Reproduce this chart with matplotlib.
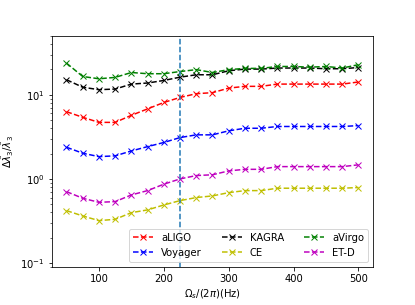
import numpy as np
import matplotlib
matplotlib.use('Agg')
import matplotlib.pyplot as plt

# fréquences (Hz)
freq = [50, 75, 100, 125, 150, 175, 200, 225, 250, 275, 300, 325, 350, 375, 400, 425, 450, 475, 500]

aligo = [6.3, 5.4, 4.7, 4.7, 5.7, 6.8, 8.1, 9.3, 10.3, 10.6, 12.0, 12.6, 12.6, 13.4, 13.4, 13.4, 13.4, 13.4, 14.2]
voyager = [2.38, 2.02, 1.84, 1.88, 2.15, 2.42, 2.71, 3.10, 3.34, 3.34, 3.73, 4.0, 4.0, 4.2, 4.2, 4.2, 4.2, 4.2, 4.3]
kagra = [15.1, 12.3, 11.5, 11.7, 13.4, 13.8, 14.8, 16.2, 17.3, 17.3, 19.3, 20.2, 20.2, 20.8, 20.8, 20.8, 20.4, 20.4, 21.1]
ce = [0.42, 0.363, 0.319, 0.331, 0.397, 0.428, 0.49, 0.552, 0.60, 0.628, 0.687, 0.726, 0.726, 0.775, 0.775, 0.775, 0.775, 0.775, 0.79]
avirgo = [23.8, 16.5, 15.5, 16.1, 18.4, 17.8, 17.8, 18.9, 19.9, 18.4, 19.9, 20.6, 20.6, 21.7, 21.7, 21.3, 21.7, 20.8, 22.8]
etd = [0.706, 0.589, 0.527, 0.537, 0.645, 0.726, 0.865, 1.0, 1.096, 1.12, 1.245, 1.30, 1.30, 1.40, 1.40, 1.40, 1.40, 1.40, 1.47]

f_cut = 225

# figure 415x305 px a 72 dpi
fig = plt.figure(figsize=(415 / 72, 305 / 72), dpi=72)
ax = fig.add_subplot(111)
fig.subplots_adjust(left=0.125, right=0.899, top=0.882, bottom=0.125)

ax.plot(freq, aligo, 'r--x', label='aLIGO')
ax.plot(freq, voyager, 'b--x', label='Voyager')
ax.plot(freq, kagra, 'k--x', label='KAGRA')
ax.plot(freq, ce, 'y--x', label='CE')
ax.plot(freq, avirgo, 'g--x', label='aVirgo')
ax.plot(freq, etd, 'm--x', label='ET-D')
ax.axvline(f_cut, ls='--')

ax.set_yscale('log')
ax.set_ylim(0.09, 50)
ax.set_xlabel(r'$\Omega_s/(2\pi)$(Hz)')
ax.set_ylabel(r'$\Delta\tilde{\lambda}_3/\tilde{\lambda}_3$')
ax.legend(ncol=3, loc='lower right')

fig.savefig('out.png', dpi=72)
